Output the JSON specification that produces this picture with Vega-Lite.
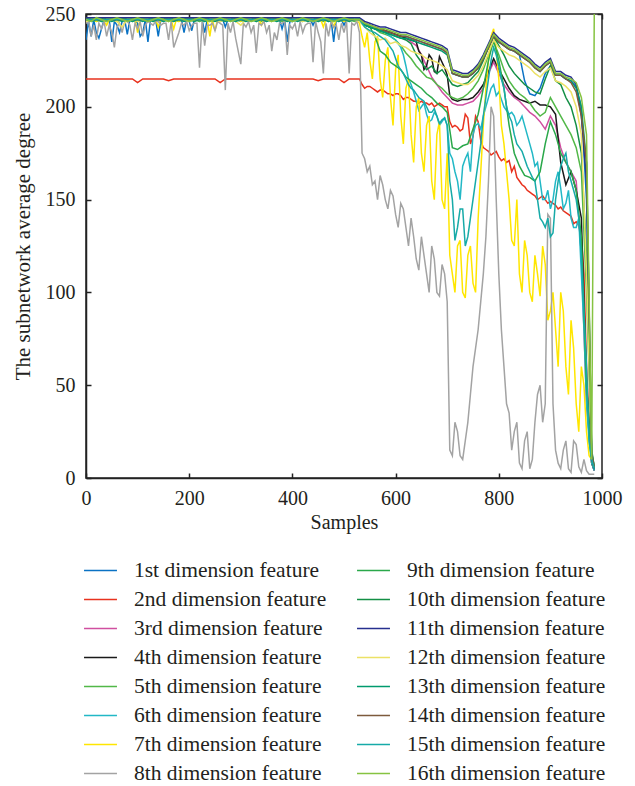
{
"$schema": "https://vega.github.io/schema/vega-lite/v6.json",
"width": 516,
"height": 464,
"autosize": {"type": "none"},
"padding": {"left": 86, "top": 14, "right": 33, "bottom": 308},
"background": "white",
"config": {
  "font": "Liberation Serif",
  "view": {"stroke": "#222222", "strokeWidth": 1.5},
  "axis": {"grid": false, "labelFont": "Liberation Serif", "titleFont": "Liberation Serif", "labelColor": "#231f20", "titleColor": "#231f20", "tickColor": "#222222", "domainColor": "#222222"}
},
"data": {"values": [
{"x":0,"1st":236,"2nd":215,"3rd":247,"4th":247,"5th":246,"6th":247,"7th":246,"8th":245,"9th":247,"10th":247,"11th":248,"12th":246,"13th":247,"14th":247,"15th":247,"16th":247},
{"x":10,"1st":238,"2nd":215,"3rd":247,"4th":248,"5th":247,"6th":247,"7th":247,"8th":238,"9th":248,"10th":247,"11th":248,"12th":247,"13th":246,"14th":247,"15th":247,"16th":246},
{"x":20,"1st":240,"2nd":215,"3rd":247,"4th":247,"5th":246,"6th":247,"7th":246,"8th":236,"9th":247,"10th":247,"11th":248,"12th":247,"13th":247,"14th":247,"15th":247,"16th":248},
{"x":30,"1st":242,"2nd":215,"3rd":247,"4th":248,"5th":247,"6th":247,"7th":247,"8th":242,"9th":248,"10th":247,"11th":248,"12th":246,"13th":246,"14th":247,"15th":247,"16th":247},
{"x":40,"1st":246,"2nd":215,"3rd":247,"4th":247,"5th":246,"6th":247,"7th":244,"8th":238,"9th":247,"10th":247,"11th":248,"12th":247,"13th":247,"14th":247,"15th":247,"16th":246},
{"x":50,"1st":235,"2nd":215,"3rd":247,"4th":248,"5th":247,"6th":247,"7th":247,"8th":240,"9th":248,"10th":247,"11th":248,"12th":247,"13th":246,"14th":247,"15th":247,"16th":247},
{"x":60,"1st":244,"2nd":215,"3rd":247,"4th":247,"5th":246,"6th":247,"7th":246,"8th":243,"9th":247,"10th":247,"11th":248,"12th":246,"13th":247,"14th":247,"15th":247,"16th":248},
{"x":70,"1st":246,"2nd":215,"3rd":247,"4th":248,"5th":247,"6th":247,"7th":247,"8th":240,"9th":248,"10th":247,"11th":248,"12th":243,"13th":246,"14th":247,"15th":247,"16th":247},
{"x":80,"1st":239,"2nd":215,"3rd":247,"4th":247,"5th":246,"6th":247,"7th":247,"8th":246,"9th":247,"10th":247,"11th":248,"12th":247,"13th":247,"14th":247,"15th":247,"16th":246},
{"x":90,"1st":246,"2nd":215,"3rd":247,"4th":248,"5th":247,"6th":247,"7th":246,"8th":236,"9th":248,"10th":247,"11th":248,"12th":247,"13th":246,"14th":247,"15th":247,"16th":247},
{"x":100,"1st":245,"2nd":213,"3rd":247,"4th":247,"5th":246,"6th":247,"7th":240,"8th":242,"9th":247,"10th":247,"11th":248,"12th":246,"13th":247,"14th":247,"15th":247,"16th":248},
{"x":110,"1st":240,"2nd":215,"3rd":247,"4th":248,"5th":247,"6th":247,"7th":247,"8th":238,"9th":248,"10th":247,"11th":248,"12th":247,"13th":246,"14th":247,"15th":247,"16th":247},
{"x":120,"1st":235,"2nd":215,"3rd":247,"4th":247,"5th":246,"6th":247,"7th":247,"8th":246,"9th":247,"10th":247,"11th":248,"12th":247,"13th":247,"14th":247,"15th":247,"16th":246},
{"x":130,"1st":246,"2nd":215,"3rd":247,"4th":248,"5th":247,"6th":247,"7th":246,"8th":244,"9th":248,"10th":247,"11th":248,"12th":246,"13th":246,"14th":247,"15th":247,"16th":247},
{"x":140,"1st":238,"2nd":215,"3rd":247,"4th":247,"5th":246,"6th":247,"7th":243,"8th":246,"9th":247,"10th":247,"11th":248,"12th":247,"13th":247,"14th":247,"15th":247,"16th":248},
{"x":150,"1st":246,"2nd":215,"3rd":247,"4th":248,"5th":247,"6th":247,"7th":247,"8th":245,"9th":248,"10th":247,"11th":248,"12th":247,"13th":246,"14th":247,"15th":247,"16th":247},
{"x":160,"1st":247,"2nd":214,"3rd":247,"4th":247,"5th":246,"6th":247,"7th":247,"8th":236,"9th":247,"10th":247,"11th":248,"12th":246,"13th":247,"14th":247,"15th":247,"16th":246},
{"x":170,"1st":246,"2nd":215,"3rd":247,"4th":248,"5th":247,"6th":247,"7th":242,"8th":232,"9th":248,"10th":247,"11th":248,"12th":247,"13th":246,"14th":247,"15th":247,"16th":247},
{"x":180,"1st":247,"2nd":215,"3rd":247,"4th":247,"5th":246,"6th":247,"7th":246,"8th":240,"9th":247,"10th":247,"11th":248,"12th":247,"13th":247,"14th":247,"15th":247,"16th":248},
{"x":190,"1st":240,"2nd":215,"3rd":247,"4th":248,"5th":247,"6th":247,"7th":247,"8th":244,"9th":248,"10th":247,"11th":248,"12th":247,"13th":246,"14th":247,"15th":247,"16th":247},
{"x":200,"1st":246,"2nd":215,"3rd":247,"4th":247,"5th":246,"6th":247,"7th":247,"8th":241,"9th":247,"10th":247,"11th":248,"12th":246,"13th":247,"14th":247,"15th":247,"16th":246},
{"x":210,"1st":247,"2nd":215,"3rd":247,"4th":248,"5th":247,"6th":247,"7th":246,"8th":245,"9th":248,"10th":247,"11th":248,"12th":247,"13th":246,"14th":247,"15th":247,"16th":247},
{"x":220,"1st":246,"2nd":215,"3rd":247,"4th":247,"5th":246,"6th":247,"7th":247,"8th":221,"9th":247,"10th":247,"11th":248,"12th":247,"13th":247,"14th":247,"15th":247,"16th":248},
{"x":230,"1st":240,"2nd":215,"3rd":247,"4th":248,"5th":247,"6th":247,"7th":247,"8th":233,"9th":248,"10th":247,"11th":248,"12th":246,"13th":246,"14th":247,"15th":247,"16th":247},
{"x":240,"1st":246,"2nd":215,"3rd":247,"4th":247,"5th":246,"6th":247,"7th":238,"8th":244,"9th":247,"10th":247,"11th":248,"12th":247,"13th":247,"14th":247,"15th":247,"16th":246},
{"x":250,"1st":247,"2nd":215,"3rd":247,"4th":248,"5th":247,"6th":247,"7th":241,"8th":241,"9th":248,"10th":247,"11th":248,"12th":247,"13th":246,"14th":247,"15th":247,"16th":247},
{"x":260,"1st":246,"2nd":213,"3rd":247,"4th":247,"5th":246,"6th":247,"7th":247,"8th":245,"9th":247,"10th":247,"11th":248,"12th":246,"13th":247,"14th":247,"15th":247,"16th":248},
{"x":270,"1st":243,"2nd":215,"3rd":247,"4th":248,"5th":247,"6th":247,"7th":246,"8th":209,"9th":248,"10th":247,"11th":248,"12th":247,"13th":246,"14th":247,"15th":247,"16th":247},
{"x":280,"1st":247,"2nd":215,"3rd":247,"4th":247,"5th":246,"6th":247,"7th":247,"8th":240,"9th":247,"10th":247,"11th":248,"12th":247,"13th":247,"14th":247,"15th":247,"16th":246},
{"x":290,"1st":246,"2nd":215,"3rd":247,"4th":248,"5th":247,"6th":247,"7th":247,"8th":237,"9th":248,"10th":247,"11th":248,"12th":246,"13th":246,"14th":247,"15th":247,"16th":247},
{"x":300,"1st":247,"2nd":215,"3rd":247,"4th":247,"5th":246,"6th":247,"7th":246,"8th":223,"9th":247,"10th":247,"11th":248,"12th":244,"13th":247,"14th":247,"15th":247,"16th":248},
{"x":310,"1st":246,"2nd":215,"3rd":247,"4th":248,"5th":247,"6th":247,"7th":247,"8th":243,"9th":248,"10th":247,"11th":248,"12th":247,"13th":246,"14th":247,"15th":247,"16th":247},
{"x":320,"1st":247,"2nd":215,"3rd":247,"4th":247,"5th":246,"6th":247,"7th":247,"8th":240,"9th":247,"10th":247,"11th":248,"12th":247,"13th":247,"14th":247,"15th":247,"16th":246},
{"x":330,"1st":246,"2nd":215,"3rd":247,"4th":248,"5th":247,"6th":247,"7th":246,"8th":229,"9th":248,"10th":247,"11th":248,"12th":246,"13th":246,"14th":247,"15th":247,"16th":247},
{"x":340,"1st":247,"2nd":215,"3rd":247,"4th":247,"5th":246,"6th":247,"7th":244,"8th":244,"9th":247,"10th":247,"11th":248,"12th":247,"13th":247,"14th":247,"15th":247,"16th":248},
{"x":350,"1st":246,"2nd":215,"3rd":247,"4th":248,"5th":247,"6th":247,"7th":247,"8th":240,"9th":248,"10th":247,"11th":248,"12th":247,"13th":246,"14th":247,"15th":247,"16th":247},
{"x":360,"1st":247,"2nd":215,"3rd":247,"4th":247,"5th":246,"6th":247,"7th":247,"8th":230,"9th":247,"10th":247,"11th":248,"12th":246,"13th":247,"14th":247,"15th":247,"16th":246},
{"x":370,"1st":246,"2nd":215,"3rd":247,"4th":248,"5th":247,"6th":247,"7th":246,"8th":236,"9th":248,"10th":247,"11th":248,"12th":247,"13th":246,"14th":247,"15th":247,"16th":247},
{"x":380,"1st":242,"2nd":215,"3rd":247,"4th":247,"5th":246,"6th":247,"7th":247,"8th":245,"9th":247,"10th":247,"11th":248,"12th":247,"13th":247,"14th":247,"15th":247,"16th":248},
{"x":390,"1st":235,"2nd":215,"3rd":247,"4th":248,"5th":247,"6th":247,"7th":247,"8th":228,"9th":248,"10th":247,"11th":248,"12th":246,"13th":246,"14th":247,"15th":247,"16th":247},
{"x":400,"1st":246,"2nd":215,"3rd":247,"4th":247,"5th":246,"6th":247,"7th":246,"8th":242,"9th":247,"10th":247,"11th":248,"12th":247,"13th":247,"14th":247,"15th":247,"16th":246},
{"x":410,"1st":247,"2nd":215,"3rd":247,"4th":248,"5th":247,"6th":247,"7th":247,"8th":238,"9th":248,"10th":247,"11th":248,"12th":247,"13th":246,"14th":247,"15th":247,"16th":247},
{"x":420,"1st":246,"2nd":215,"3rd":247,"4th":247,"5th":246,"6th":247,"7th":247,"8th":240,"9th":247,"10th":247,"11th":248,"12th":246,"13th":247,"14th":247,"15th":247,"16th":248},
{"x":430,"1st":247,"2nd":215,"3rd":247,"4th":248,"5th":247,"6th":247,"7th":246,"8th":245,"9th":248,"10th":247,"11th":248,"12th":247,"13th":246,"14th":247,"15th":247,"16th":247},
{"x":440,"1st":244,"2nd":215,"3rd":247,"4th":247,"5th":246,"6th":247,"7th":247,"8th":224,"9th":247,"10th":247,"11th":248,"12th":247,"13th":247,"14th":247,"15th":247,"16th":246},
{"x":450,"1st":246,"2nd":214,"3rd":247,"4th":248,"5th":247,"6th":247,"7th":247,"8th":240,"9th":248,"10th":247,"11th":248,"12th":246,"13th":246,"14th":247,"15th":247,"16th":247},
{"x":460,"1st":247,"2nd":215,"3rd":247,"4th":247,"5th":246,"6th":247,"7th":243,"8th":218,"9th":247,"10th":247,"11th":248,"12th":247,"13th":247,"14th":247,"15th":247,"16th":248},
{"x":470,"1st":246,"2nd":215,"3rd":247,"4th":248,"5th":247,"6th":247,"7th":247,"8th":238,"9th":248,"10th":247,"11th":248,"12th":247,"13th":246,"14th":247,"15th":247,"16th":247},
{"x":480,"1st":235,"2nd":215,"3rd":247,"4th":247,"5th":246,"6th":247,"7th":243,"8th":243,"9th":247,"10th":247,"11th":248,"12th":246,"13th":247,"14th":247,"15th":247,"16th":246},
{"x":490,"1st":246,"2nd":215,"3rd":247,"4th":248,"5th":247,"6th":247,"7th":247,"8th":236,"9th":248,"10th":247,"11th":248,"12th":247,"13th":246,"14th":247,"15th":247,"16th":247},
{"x":500,"1st":244,"2nd":213,"3rd":247,"4th":247,"5th":246,"6th":247,"7th":246,"8th":240,"9th":247,"10th":247,"11th":248,"12th":247,"13th":247,"14th":247,"15th":247,"16th":248},
{"x":510,"1st":246,"2nd":215,"3rd":247,"4th":248,"5th":247,"6th":247,"7th":247,"8th":218,"9th":248,"10th":247,"11th":248,"12th":246,"13th":246,"14th":247,"15th":247,"16th":247},
{"x":520,"1st":247,"2nd":215,"3rd":247,"4th":247,"5th":246,"6th":247,"7th":247,"8th":244,"9th":247,"10th":247,"11th":248,"12th":247,"13th":247,"14th":247,"15th":247,"16th":247},
{"x":530,"1st":247,"2nd":215,"3rd":247,"4th":247,"5th":247,"6th":247,"7th":245,"8th":240,"9th":247,"10th":247,"11th":248,"12th":246,"13th":247,"14th":247,"15th":247,"16th":247},
{"x":540,"1st":244,"2nd":210,"3rd":245,"4th":245,"5th":244,"6th":245,"7th":232,"8th":172,"9th":245,"10th":244,"11th":246,"12th":243,"13th":244,"14th":245,"15th":243,"16th":245},
{"x":550,"1st":243,"2nd":211,"3rd":244,"4th":243,"5th":243,"6th":244,"7th":225,"8th":168,"9th":243,"10th":243,"11th":245,"12th":240,"13th":243,"14th":244,"15th":241,"16th":244},
{"x":560,"1st":242,"2nd":209,"3rd":243,"4th":242,"5th":242,"6th":242,"7th":235,"8th":160,"9th":238,"10th":242,"11th":244,"12th":238,"13th":242,"14th":243,"15th":240,"16th":243},
{"x":570,"1st":241,"2nd":209,"3rd":242,"4th":242,"5th":240,"6th":241,"7th":215,"8th":163,"9th":230,"10th":241,"11th":243,"12th":236,"13th":241,"14th":242,"15th":238,"16th":242},
{"x":580,"1st":241,"2nd":208,"3rd":241,"4th":241,"5th":239,"6th":240,"7th":225,"8th":150,"9th":228,"10th":240,"11th":243,"12th":237,"13th":240,"14th":241,"15th":236,"16th":242},
{"x":590,"1st":240,"2nd":207,"3rd":240,"4th":240,"5th":238,"6th":238,"7th":205,"8th":155,"9th":224,"10th":239,"11th":242,"12th":234,"13th":239,"14th":240,"15th":232,"16th":241},
{"x":600,"1st":239,"2nd":207,"3rd":239,"4th":239,"5th":236,"6th":236,"7th":220,"8th":142,"9th":222,"10th":238,"11th":241,"12th":235,"13th":238,"14th":239,"15th":226,"16th":240},
{"x":610,"1st":238,"2nd":206,"3rd":238,"4th":238,"5th":233,"6th":232,"7th":195,"8th":148,"9th":220,"10th":237,"11th":240,"12th":233,"13th":237,"14th":238,"15th":220,"16th":239},
{"x":620,"1st":238,"2nd":205,"3rd":237,"4th":237,"5th":229,"6th":222,"7th":210,"8th":135,"9th":216,"10th":236,"11th":240,"12th":232,"13th":237,"14th":238,"15th":215,"16th":239},
{"x":630,"1st":237,"2nd":204,"3rd":235,"4th":236,"5th":226,"6th":212,"7th":185,"8th":140,"9th":214,"10th":234,"11th":239,"12th":230,"13th":236,"14th":237,"15th":210,"16th":238},
{"x":640,"1st":236,"2nd":203,"3rd":233,"4th":235,"5th":222,"6th":203,"7th":200,"8th":118,"9th":212,"10th":228,"11th":238,"12th":229,"13th":235,"14th":236,"15th":207,"16th":237},
{"x":650,"1st":235,"2nd":203,"3rd":228,"4th":228,"5th":219,"6th":200,"7th":175,"8th":130,"9th":210,"10th":224,"11th":237,"12th":228,"13th":234,"14th":235,"15th":204,"16th":236},
{"x":660,"1st":234,"2nd":202,"3rd":222,"4th":222,"5th":216,"6th":196,"7th":190,"8th":110,"9th":207,"10th":220,"11th":236,"12th":226,"13th":233,"14th":234,"15th":200,"16th":235},
{"x":670,"1st":233,"2nd":202,"3rd":216,"4th":226,"5th":215,"6th":193,"7th":160,"8th":125,"9th":205,"10th":222,"11th":235,"12th":225,"13th":232,"14th":233,"15th":197,"16th":234},
{"x":680,"1st":232,"2nd":201,"3rd":212,"4th":218,"5th":212,"6th":195,"7th":185,"8th":100,"9th":202,"10th":218,"11th":234,"12th":224,"13th":231,"14th":232,"15th":195,"16th":233},
{"x":690,"1st":231,"2nd":201,"3rd":208,"4th":224,"5th":210,"6th":192,"7th":150,"8th":115,"9th":200,"10th":220,"11th":233,"12th":222,"13th":230,"14th":231,"15th":193,"16th":232},
{"x":700,"1st":229,"2nd":200,"3rd":205,"4th":217,"5th":207,"6th":190,"7th":175,"8th":95,"9th":197,"10th":216,"11th":231,"12th":220,"13th":228,"14th":229,"15th":190,"16th":230},
{"x":710,"1st":218,"2nd":189,"3rd":202,"4th":204,"5th":205,"6th":172,"7th":110,"8th":12,"9th":178,"10th":212,"11th":220,"12th":214,"13th":218,"14th":218,"15th":150,"16th":219},
{"x":720,"1st":217,"2nd":189,"3rd":201,"4th":203,"5th":204,"6th":160,"7th":125,"8th":25,"9th":177,"10th":211,"11th":219,"12th":213,"13th":217,"14th":217,"15th":135,"16th":218},
{"x":730,"1st":216,"2nd":188,"3rd":201,"4th":204,"5th":205,"6th":168,"7th":100,"8th":10,"9th":179,"10th":212,"11th":218,"12th":212,"13th":216,"14th":216,"15th":145,"16th":217},
{"x":740,"1st":216,"2nd":194,"3rd":202,"4th":204,"5th":207,"6th":175,"7th":120,"8th":30,"9th":180,"10th":213,"11th":218,"12th":212,"13th":216,"14th":216,"15th":130,"16th":217},
{"x":750,"1st":218,"2nd":184,"3rd":203,"4th":205,"5th":210,"6th":185,"7th":105,"8th":60,"9th":188,"10th":216,"11th":220,"12th":214,"13th":218,"14th":218,"15th":150,"16th":219},
{"x":760,"1st":221,"2nd":192,"3rd":206,"4th":208,"5th":214,"6th":191,"7th":140,"8th":80,"9th":196,"10th":219,"11th":223,"12th":217,"13th":221,"14th":221,"15th":170,"16th":222},
{"x":770,"1st":226,"2nd":178,"3rd":210,"4th":212,"5th":220,"6th":195,"7th":190,"8th":110,"9th":210,"10th":225,"11th":228,"12th":222,"13th":226,"14th":226,"15th":195,"16th":227},
{"x":780,"1st":232,"2nd":176,"3rd":218,"4th":219,"5th":228,"6th":205,"7th":225,"8th":160,"9th":225,"10th":232,"11th":234,"12th":229,"13th":232,"14th":232,"15th":215,"16th":233},
{"x":790,"1st":238,"2nd":175,"3rd":224,"4th":226,"5th":235,"6th":212,"7th":242,"8th":195,"9th":236,"10th":238,"11th":240,"12th":236,"13th":238,"14th":238,"15th":232,"16th":239},
{"x":800,"1st":235,"2nd":173,"3rd":218,"4th":220,"5th":228,"6th":208,"7th":215,"8th":110,"9th":225,"10th":233,"11th":237,"12th":232,"13th":235,"14th":235,"15th":222,"16th":236},
{"x":810,"1st":233,"2nd":172,"3rd":212,"4th":215,"5th":220,"6th":200,"7th":180,"8th":60,"9th":210,"10th":228,"11th":235,"12th":230,"13th":233,"14th":233,"15th":210,"16th":234},
{"x":820,"1st":231,"2nd":171,"3rd":208,"4th":210,"5th":214,"6th":196,"7th":150,"8th":35,"9th":190,"10th":222,"11th":233,"12th":228,"13th":231,"14th":231,"15th":195,"16th":232},
{"x":830,"1st":230,"2nd":168,"3rd":205,"4th":206,"5th":210,"6th":195,"7th":125,"8th":25,"9th":175,"10th":218,"11th":232,"12th":227,"13th":230,"14th":230,"15th":185,"16th":231},
{"x":840,"1st":228,"2nd":160,"3rd":203,"4th":204,"5th":207,"6th":192,"7th":110,"8th":8,"9th":168,"10th":215,"11th":230,"12th":225,"13th":228,"14th":228,"15th":178,"16th":229},
{"x":850,"1st":214,"2nd":157,"3rd":200,"4th":203,"5th":205,"6th":190,"7th":128,"8th":20,"9th":163,"10th":212,"11th":228,"12th":223,"13th":226,"14th":226,"15th":172,"16th":227},
{"x":860,"1st":207,"2nd":154,"3rd":197,"4th":202,"5th":202,"6th":180,"7th":100,"8th":5,"9th":162,"10th":210,"11th":226,"12th":221,"13th":224,"14th":224,"15th":165,"16th":225},
{"x":870,"1st":206,"2nd":152,"3rd":195,"4th":203,"5th":198,"6th":168,"7th":120,"8th":30,"9th":160,"10th":208,"11th":223,"12th":218,"13th":221,"14th":221,"15th":160,"16th":222},
{"x":880,"1st":210,"2nd":151,"3rd":192,"4th":201,"5th":195,"6th":160,"7th":98,"8th":50,"9th":165,"10th":207,"11th":221,"12th":216,"13th":219,"14th":219,"15th":140,"16th":220},
{"x":890,"1st":218,"2nd":150,"3rd":188,"4th":201,"5th":197,"6th":150,"7th":115,"8th":40,"9th":180,"10th":215,"11th":224,"12th":219,"13th":222,"14th":222,"15th":135,"16th":223},
{"x":900,"1st":222,"2nd":149,"3rd":195,"4th":200,"5th":205,"6th":145,"7th":90,"8th":140,"9th":192,"10th":222,"11th":226,"12th":221,"13th":224,"14th":224,"15th":130,"16th":225},
{"x":910,"1st":217,"2nd":147,"3rd":190,"4th":196,"5th":200,"6th":160,"7th":80,"8th":15,"9th":185,"10th":214,"11th":219,"12th":214,"13th":217,"14th":217,"15th":150,"16th":218},
{"x":920,"1st":217,"2nd":146,"3rd":178,"4th":170,"5th":195,"6th":156,"7th":100,"8th":5,"9th":175,"10th":212,"11th":219,"12th":213,"13th":217,"14th":217,"15th":168,"16th":218},
{"x":930,"1st":215,"2nd":143,"3rd":170,"4th":158,"5th":190,"6th":148,"7th":60,"8th":20,"9th":170,"10th":205,"11th":217,"12th":211,"13th":215,"14th":215,"15th":175,"16th":216},
{"x":940,"1st":214,"2nd":141,"3rd":165,"4th":165,"5th":185,"6th":140,"7th":85,"8th":3,"9th":165,"10th":200,"11th":216,"12th":208,"13th":214,"14th":213,"15th":160,"16th":215},
{"x":950,"1st":211,"2nd":138,"3rd":160,"4th":155,"5th":178,"6th":135,"7th":40,"8th":18,"9th":155,"10th":190,"11th":212,"12th":200,"13th":210,"14th":208,"15th":150,"16th":213},
{"x":960,"1st":200,"2nd":130,"3rd":120,"4th":140,"5th":165,"6th":110,"7th":60,"8th":3,"9th":130,"10th":175,"11th":195,"12th":185,"13th":200,"14th":195,"15th":120,"16th":205},
{"x":970,"1st":150,"2nd":60,"3rd":40,"4th":50,"5th":100,"6th":40,"7th":25,"8th":4,"9th":50,"10th":120,"11th":160,"12th":110,"13th":170,"14th":170,"15th":60,"16th":185},
{"x":980,"1st":10,"2nd":10,"3rd":8,"4th":8,"5th":12,"6th":8,"7th":10,"8th":2,"9th":10,"10th":15,"11th":10,"12th":12,"13th":14,"14th":13,"15th":10,"16th":10},
{"x":985,"1st":5,"2nd":5,"3rd":4,"4th":4,"5th":5,"6th":4,"7th":5,"8th":2,"9th":5,"10th":6,"11th":5,"12th":6,"13th":6,"14th":6,"15th":5,"16th":250},
{"x":5,"1st":246,"7th":247,"8th":246},
{"x":15,"1st":247,"7th":247,"8th":244},
{"x":25,"1st":237,"7th":247,"8th":245},
{"x":35,"1st":247,"7th":246,"8th":246},
{"x":45,"1st":247,"7th":247,"8th":244},
{"x":55,"1st":246,"7th":247,"8th":232},
{"x":65,"1st":240,"7th":247,"8th":245},
{"x":75,"1st":247,"7th":247,"8th":246},
{"x":85,"1st":247,"7th":247,"8th":244},
{"x":95,"1st":247,"7th":247,"8th":245},
{"x":105,"1st":238,"7th":247,"8th":246},
{"x":115,"1st":247,"7th":247,"8th":244},
{"x":125,"1st":247,"7th":247,"8th":245},
{"x":135,"1st":247,"7th":247,"8th":246},
{"x":145,"1st":247,"7th":247,"8th":244},
{"x":155,"1st":247,"7th":247,"8th":245},
{"x":165,"1st":247,"7th":247,"8th":246},
{"x":175,"1st":247,"7th":247,"8th":236},
{"x":185,"1st":247,"7th":247,"8th":245},
{"x":195,"1st":247,"7th":247,"8th":246},
{"x":205,"1st":241,"7th":247,"8th":244},
{"x":215,"1st":247,"7th":247,"8th":245},
{"x":225,"1st":247,"7th":247,"8th":246},
{"x":235,"1st":247,"7th":247,"8th":244},
{"x":245,"1st":247,"7th":247,"8th":245},
{"x":255,"1st":247,"7th":247,"8th":246},
{"x":265,"1st":247,"7th":247,"8th":244},
{"x":275,"1st":247,"7th":247,"8th":245},
{"x":285,"1st":247,"7th":247,"8th":246},
{"x":295,"1st":247,"7th":247,"8th":230},
{"x":305,"1st":247,"7th":247,"8th":245},
{"x":315,"1st":247,"7th":247,"8th":246},
{"x":325,"1st":247,"7th":247,"8th":244},
{"x":335,"1st":247,"7th":247,"8th":245},
{"x":345,"1st":247,"7th":247,"8th":246},
{"x":355,"1st":247,"7th":247,"8th":244},
{"x":365,"1st":247,"7th":247,"8th":240},
{"x":375,"1st":247,"7th":247,"8th":245},
{"x":385,"1st":247,"7th":247,"8th":246},
{"x":395,"1st":246,"7th":247,"8th":244},
{"x":405,"1st":247,"7th":247,"8th":245},
{"x":415,"1st":247,"7th":247,"8th":246},
{"x":425,"1st":247,"7th":247,"8th":244},
{"x":435,"1st":247,"7th":247,"8th":245},
{"x":445,"1st":247,"7th":247,"8th":246},
{"x":455,"1st":247,"7th":247,"8th":235},
{"x":465,"1st":247,"7th":247,"8th":245},
{"x":475,"1st":247,"7th":247,"8th":246},
{"x":485,"1st":247,"7th":247,"8th":244},
{"x":495,"1st":247,"7th":247,"8th":245},
{"x":505,"1st":247,"7th":247,"8th":246},
{"x":515,"1st":247,"7th":247,"8th":245},
{"x":525,"1st":247,"7th":247,"8th":246},
{"x":535,"2nd":212,"7th":238,"8th":175},
{"x":545,"2nd":211,"7th":240,"8th":165},
{"x":555,"2nd":210,"7th":215,"8th":158},
{"x":565,"2nd":208,"7th":238,"8th":150},
{"x":575,"2nd":209,"7th":205,"8th":158},
{"x":585,"2nd":207,"7th":232,"8th":145,"15th":234},
{"x":595,"2nd":206,"7th":190,"8th":152,"15th":230},
{"x":605,"2nd":207,"7th":228,"8th":135,"15th":222},
{"x":615,"2nd":204,"6th":228,"7th":180,"8th":145,"15th":218},
{"x":625,"2nd":205,"6th":215,"7th":215,"8th":125,"15th":212},
{"x":635,"2nd":203,"6th":208,"7th":170,"8th":130,"15th":209},
{"x":645,"2nd":202,"4th":230,"6th":198,"7th":205,"8th":112,"15th":205},
{"x":655,"2nd":202,"4th":220,"6th":202,"7th":165,"8th":120,"15th":203},
{"x":665,"2nd":201,"4th":228,"6th":192,"7th":195,"8th":100,"15th":197},
{"x":675,"2nd":200,"4th":219,"6th":197,"7th":150,"8th":118,"15th":199},
{"x":685,"2nd":202,"4th":227,"6th":190,"7th":192,"8th":98,"15th":191},
{"x":695,"2nd":200,"4th":221,"6th":194,"7th":145,"8th":110,"15th":194},
{"x":705,"2nd":192,"4th":206,"6th":175,"7th":120,"8th":15,"15th":160},
{"x":715,"2nd":190,"6th":165,"7th":100,"8th":30,"15th":128},
{"x":725,"2nd":187,"6th":150,"7th":128,"8th":12,"15th":145},
{"x":735,"2nd":196,"6th":172,"7th":97,"8th":20,"15th":125},
{"x":745,"2nd":180,"6th":165,"7th":125,"8th":45,"15th":140},
{"x":755,"2nd":195,"6th":190,"7th":100,"8th":70,"15th":160},
{"x":765,"2nd":182,"6th":188,"7th":165,"8th":95,"15th":180},
{"x":775,"2nd":177,"6th":200,"7th":210,"8th":130,"15th":205},
{"x":785,"2nd":174,"6th":210,"7th":238,"8th":200,"15th":225},
{"x":795,"2nd":176,"6th":206,"7th":230,"8th":150,"15th":228},
{"x":805,"2nd":171,"6th":204,"7th":190,"8th":80,"15th":215},
{"x":815,"2nd":170,"6th":198,"7th":165,"8th":40,"15th":200},
{"x":825,"2nd":165,"6th":197,"7th":128,"8th":15,"15th":192},
{"x":835,"2nd":162,"6th":190,"7th":150,"8th":30,"15th":180},
{"x":845,"2nd":158,"6th":195,"7th":100,"8th":5,"15th":176},
{"x":855,"2nd":155,"6th":185,"7th":120,"8th":25,"15th":168},
{"x":865,"2nd":153,"6th":175,"7th":95,"8th":10,"15th":162},
{"x":875,"2nd":150,"6th":170,"7th":110,"8th":45,"15th":150},
{"x":885,"2nd":152,"6th":150,"7th":125,"8th":30,"15th":138},
{"x":895,"2nd":148,"6th":155,"7th":85,"8th":142,"15th":140},
{"x":905,"2nd":148,"6th":150,"7th":100,"8th":40,"15th":132},
{"x":915,"2nd":145,"6th":165,"7th":60,"8th":8,"15th":160},
{"x":925,"2nd":144,"6th":145,"7th":90,"8th":15,"15th":172},
{"x":935,"2nd":142,"6th":155,"7th":45,"8th":5,"15th":165},
{"x":945,"2nd":137,"6th":135,"7th":70,"8th":20,"15th":155},
{"x":955,"2nd":136,"6th":140,"7th":25,"8th":6,"15th":140},
{"x":965,"2nd":110,"6th":80,"7th":50,"8th":10,"15th":90},
{"x":975,"2nd":30,"6th":20,"7th":12,"8th":2,"15th":20}
]},
"layer": [
  {
    "transform": [{"fold": ["1st","2nd","3rd","4th","5th","6th","7th","8th","9th","10th","11th","12th","13th","14th","15th","16th"], "as": ["series","value"]}],
    "mark": {"type": "line", "strokeWidth": 1.5, "clip": true, "invalid": "filter"},
    "encoding": {
      "x": {"field": "x", "type": "quantitative", "scale": {"domain": [0, 1000], "nice": false},
        "axis": {"orient": "bottom", "values": [0,200,400,600,800,1000], "format": "d", "labelFontSize": 20, "tickSize": -5, "tickWidth": 1.5, "domainWidth": 1.5, "labelPadding": 15, "title": "Samples", "titleFontSize": 20, "titleFontWeight": "normal", "titlePadding": 4, "labelFlush": false}},
      "y": {"field": "value", "type": "quantitative", "scale": {"domain": [0, 250], "nice": false},
        "axis": {"orient": "left", "values": [0,50,100,150,200,250], "labelFontSize": 20, "tickSize": -5, "tickWidth": 1.5, "domainWidth": 1.5, "labelPadding": 16, "title": "The subnetwork average degree", "titleFontSize": 21, "titleFontWeight": "normal", "titlePadding": 12, "labelFlush": false}},
      "color": {"field": "series", "type": "nominal",
        "scale": {"domain": ["1st","2nd","3rd","4th","5th","6th","7th","8th","9th","10th","11th","12th","13th","14th","15th","16th"],
                  "range": ["#0a72c4","#e8321e","#d04fa0","#1a1a1a","#52b848","#22b8c6","#ffe600","#a3a3a3","#2aa84a","#138f45","#262f8e","#ece166","#009a6e","#7d5a3c","#16aaa8","#86c341"]},
        "legend": {"orient": "none", "legendX": 0, "legendY": 542, "columns": 2, "title": null, "padding": 0,
          "symbolType": "M-1.22,0H1.22", "symbolSize": 729, "symbolStrokeWidth": 1.5,
          "labelFont": "Liberation Serif", "labelFontSize": 21.5, "labelColor": "#231f20", "labelOffset": 19,
          "columnPadding": 27, "rowPadding": 4, "labelLimit": 300,
          "labelExpr": "datum.label + ' dimension feature'"}}
    }
  },
  {
    "data": {"values": [{"x": 0, "value": 0}]},
    "mark": {"type": "point", "opacity": 0},
    "encoding": {
      "x": {"field": "x", "type": "quantitative", "scale": {"domain": [0, 1000], "nice": false},
        "axis": {"orient": "top", "values": [0,200,400,600,800,1000], "labels": false, "domain": false, "tickSize": -5, "tickWidth": 1.5, "title": null}},
      "y": {"field": "value", "type": "quantitative", "scale": {"domain": [0, 250], "nice": false},
        "axis": {"orient": "right", "values": [0,50,100,150,200,250], "labels": false, "domain": false, "tickSize": -5, "tickWidth": 1.5, "title": null}}
    }
  }
],
"resolve": {"axis": {"x": "independent", "y": "independent"}}
}
